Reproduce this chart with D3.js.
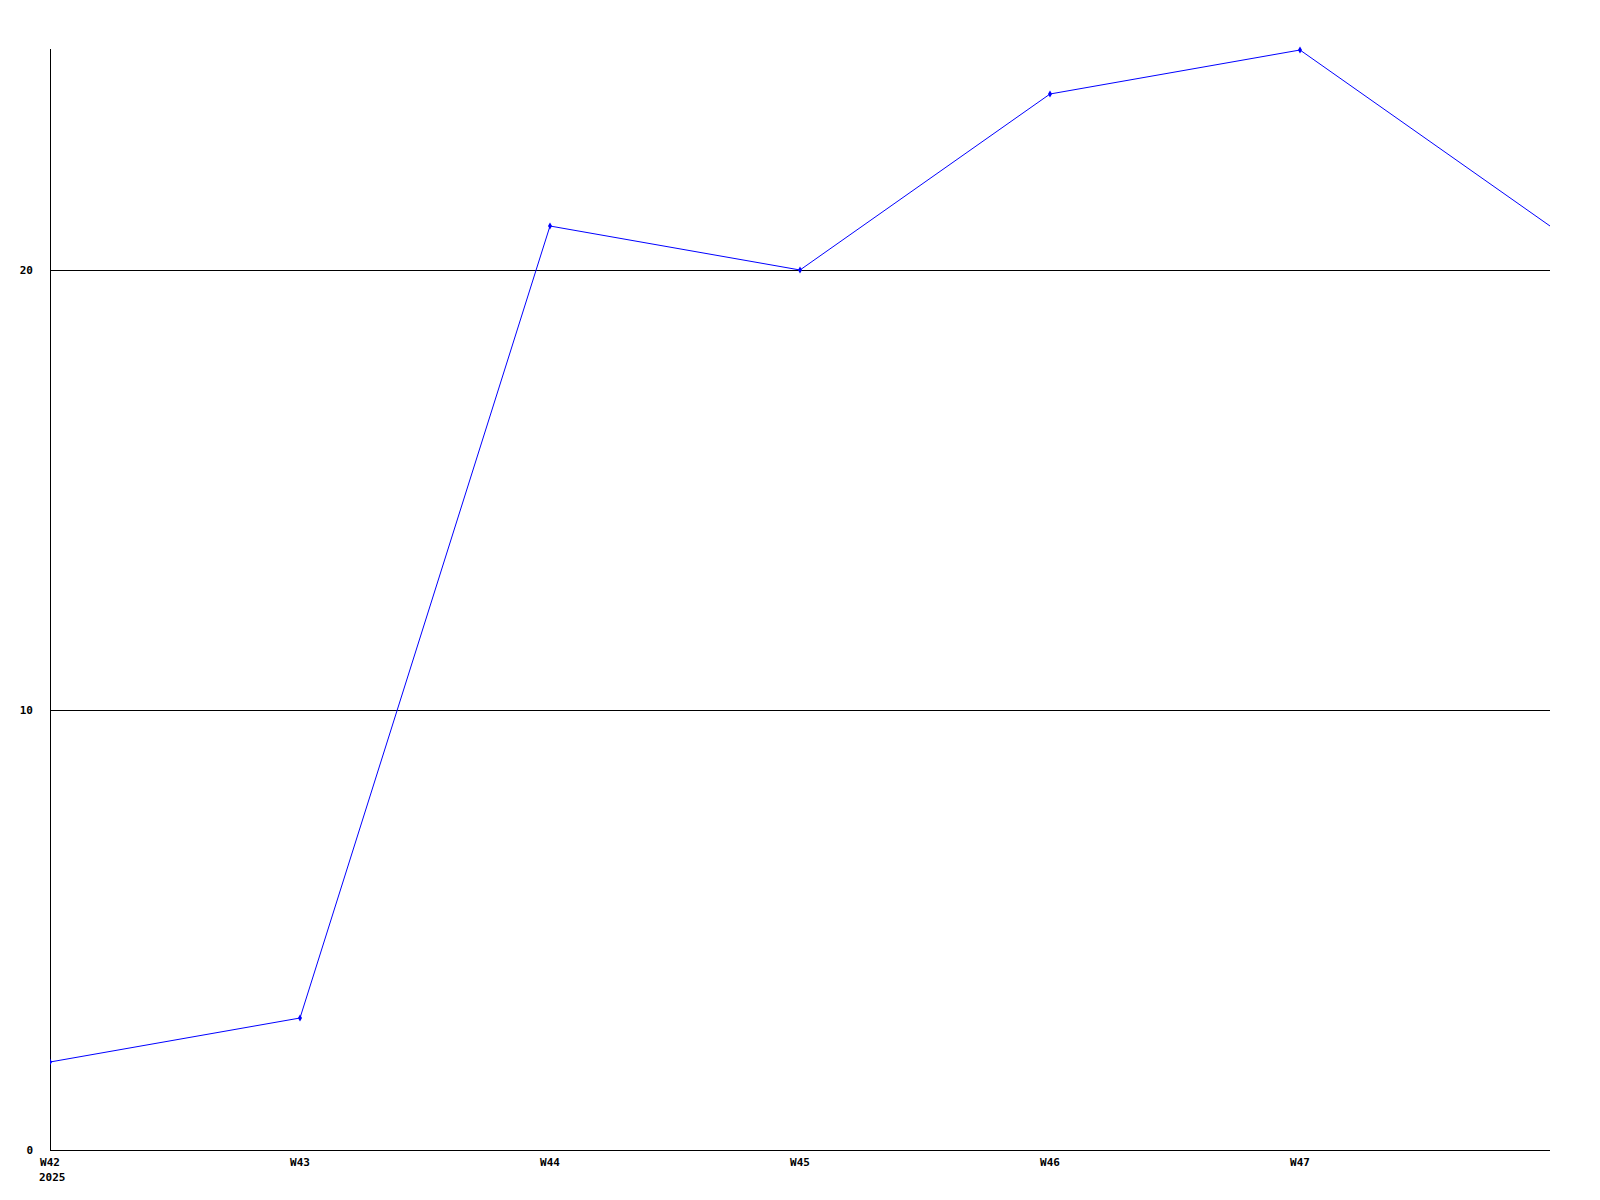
<!DOCTYPE html>
<html>
<head>
<meta charset="utf-8">
<script src="https://cdn.jsdelivr.net/npm/d3@7"></script>
<style>
  body { margin: 0; background: #fff; }
  text { font-family: "DejaVu Sans Mono", monospace; font-size: 11px; font-weight: bold; fill: #000; }
</style>
</head>
<body>
<div id="chart"></div>
<script>
var width = 1600, height = 1200;
var margin = {top: 50, right: 50, bottom: 50, left: 50};

// data
var weeks = ["W42", "W43", "W44", "W45", "W46", "W47", "W48"];
var values = [2, 3, 21, 20, 24, 25, 21];
var yTicks = [0, 10, 20];
var yearLabel = "2025";

var svg = d3.select("#chart").append("svg")
  .attr("width", width)
  .attr("height", height);

var x = d3.scalePoint()
  .domain(weeks)
  .range([margin.left, width - margin.right]);

var y = d3.scaleLinear()
  .domain([0, 25])
  .range([height - margin.bottom, margin.top]);

svg.append("defs").append("clipPath")
  .attr("id", "plot")
  .append("rect")
  .attr("x", margin.left)
  .attr("y", margin.top - 5)
  .attr("width", width - margin.left - margin.right)
  .attr("height", height - margin.top - margin.bottom + 5);

// gridlines
svg.selectAll(".grid")
  .data(yTicks.filter(function(d) { return d > 0; }))
  .enter().append("line")
    .attr("x1", margin.left + 0.5)
    .attr("x2", width - margin.right)
    .attr("y1", function(d) { return Math.round(y(d)) + 0.5; })
    .attr("y2", function(d) { return Math.round(y(d)) + 0.5; })
    .attr("stroke", "#000")
    .attr("shape-rendering", "crispEdges");

// axes lines
svg.append("line")
  .attr("x1", margin.left + 0.5).attr("x2", margin.left + 0.5)
  .attr("y1", margin.top - 1).attr("y2", y(0) + 0.5)
  .attr("stroke", "#000").attr("shape-rendering", "crispEdges");
svg.append("line")
  .attr("x1", margin.left).attr("x2", width - margin.right)
  .attr("y1", y(0) + 0.5).attr("y2", y(0) + 0.5)
  .attr("stroke", "#000").attr("shape-rendering", "crispEdges");

// y labels
svg.selectAll(".ylab")
  .data(yTicks)
  .enter().append("text")
    .attr("x", 33)
    .attr("y", function(d) { return y(d); })
    .attr("dy", "0.35em")
    .attr("text-anchor", "end")
    .text(function(d) { return d; });

// x labels (last week not labelled)
svg.selectAll(".xlab")
  .data(weeks.slice(0, weeks.length - 1))
  .enter().append("text")
    .attr("x", function(d) { return x(d); })
    .attr("y", y(0) + 16)
    .attr("text-anchor", "middle")
    .text(function(d) { return d; });

svg.append("text")
  .attr("x", x(weeks[0]) - 11)
  .attr("y", y(0) + 31)
  .text(yearLabel);

// line
var line = d3.line()
  .x(function(d, i) { return x(weeks[i]); })
  .y(function(d) { return y(d); });

var g = svg.append("g").attr("clip-path", "url(#plot)");

g.append("path")
  .datum(values)
  .attr("fill", "none")
  .attr("stroke", "#0000ff")
  .attr("stroke-width", 1)
  .attr("d", line);

// markers; the one sitting on the right edge is cut off in the original
g.selectAll(".pt")
  .data(values.slice(0, values.length - 1))
  .enter().append("path")
    .attr("fill", "#0000ff")
    .attr("transform", function(d, i) { return "translate(" + x(weeks[i]) + "," + y(d) + ")"; })
    .attr("d", d3.symbol().type(d3.symbolDiamond).size(14));
</script>
</body>
</html>
